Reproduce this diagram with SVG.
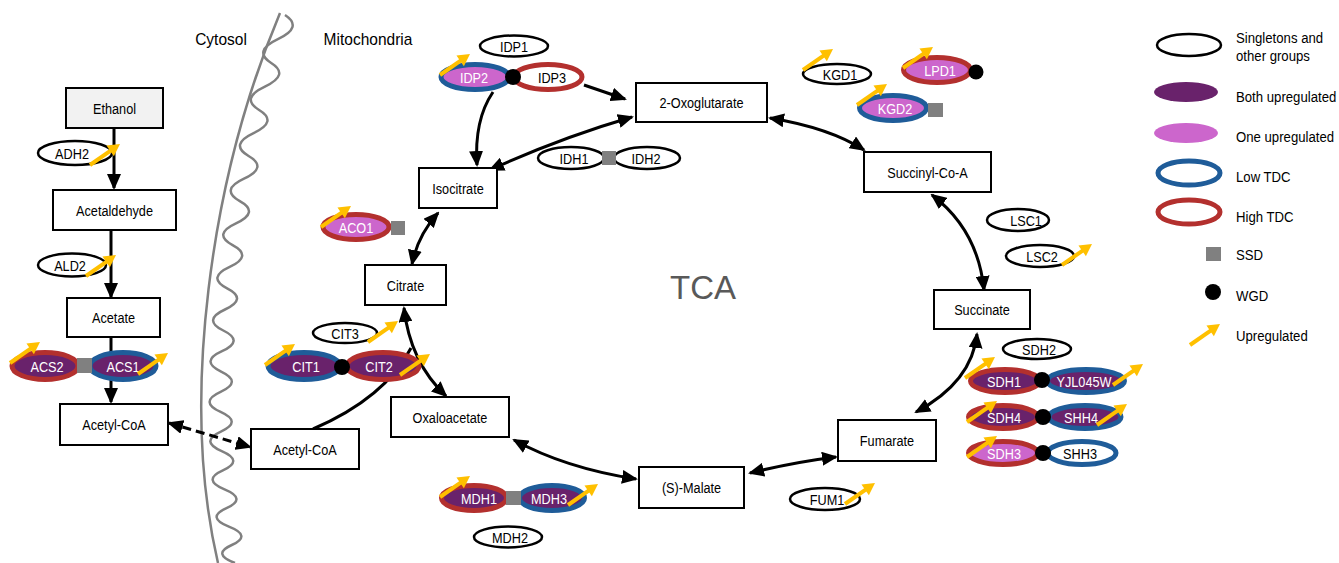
<svg xmlns="http://www.w3.org/2000/svg" xmlns:xlink="http://www.w3.org/1999/xlink" width="1339" height="563" viewBox="0 0 1339 563">
<style>
text{font-family:"Liberation Sans",Arial,sans-serif;font-size:15.5px;fill:#000}
.c{text-anchor:middle}
.w{fill:#fff}
.box{fill:#fff;stroke:#000;stroke-width:2}
.sg{fill:#fff;stroke:#000;stroke-width:2.5}
.bu{fill:#69226b}
.ou{fill:#cc66cc}
.wf{fill:#fff}
.lo{stroke:#1f5c99;stroke-width:5}
.hi{stroke:#b3302e;stroke-width:5}
.ssd{fill:#808080}
.wgd{fill:#000}
.ln{fill:none;stroke:#000;stroke-width:3}
.ae{marker-end:url(#ah)}
.ab{marker-start:url(#ah);marker-end:url(#ah)}
.mem{fill:none;stroke:#808080;stroke-width:2.5}
</style>
<defs>
<marker id="ah" viewBox="0 0 16 14" refX="14" refY="7" markerWidth="16" markerHeight="14" markerUnits="userSpaceOnUse" orient="auto-start-reverse"><path d="M0,0 L16,7 L0,14 z" fill="#000"/></marker>
<g id="up"><path d="M0,0 L21,-14.7" stroke="#ffc000" stroke-width="4" fill="none"/><polygon points="30,-21 23.9,-8.8 16.45,-19.44" fill="#ffc000"/></g>
</defs>

<g id="membrane">
<path class="mem" d="M280,13 C210,180 180,400 218,563"/>
<path class="mem" d="M285,15 Q303.4,27.1 277.9,39.1 Q252.5,51.1 271.2,63 Q290,74.8 264.9,86.6 Q240,98.3 259.1,110 Q278.3,121.6 253.6,133.1 Q229.1,144.6 248.6,156 Q268.3,167.4 244,178.7 Q219.8,189.9 239.8,201.1 Q259.9,212.2 236,223.3 Q212.3,234.2 232.6,245.2 Q253.1,256.1 229.7,266.9 Q206.4,277.6 227.1,288.3 Q248,298.9 225,309.5 Q202.1,320 223.3,330.5 Q244.6,340.9 222,351.2 Q199.5,361.4 221.1,371.6 Q242.8,381.8 220.6,391.9 Q198.6,401.9 220.6,411.9 Q242.7,421.8 220.9,431.6 Q199.3,441.4 221.7,451.1 Q244.2,460.8 222.9,470.4 Q201.6,479.9 224.5,489.4 Q247.4,498.8 226.5,508.1 Q205.6,517.4 228.9,526.7 Q252.3,535.8 231.8,545 Q211.3,554 235,563"/>
<text class="c" transform="matrix(.97 0 0 1 221 45)" style="font-size:16px">Cytosol</text>
<text class="c" transform="matrix(.97 0 0 1 368 45)" style="font-size:16px">Mitochondria</text>
<text x="703" y="299" class="c" style="font-size:33px;fill:#595959">TCA</text>
</g>

<g id="connectors">
<path class="ln ae" d="M114,128 L114,188"/>
<path class="ln ae" d="M111,230 L111,297"/>
<path class="ln ae" d="M111,337 L111,402"/>
<path class="ln ab" d="M169,423 L250,447" stroke-dasharray="9,5"/>
<path class="ln" d="M313,429 Q385,398 411,348"/>
<path class="ln ab" d="M404,308 Q410,362 446,396"/>
<path class="ln ab" d="M412,264 Q418,235 438,213"/>
<path class="ln ae" d="M493,92 Q474,120 477,165"/>
<path class="ln ab" d="M490,170 Q560,138 632,117"/>
<path class="ln ae" d="M584,85 L625,99"/>
<path class="ln ab" d="M770,118 Q830,128 864,150"/>
<path class="ln ab" d="M932,195 Q978,230 984,290"/>
<path class="ln ab" d="M977,334 Q972,382 916,412"/>
<path class="ln ab" d="M750,473 Q795,462 836,457"/>
<path class="ln ab" d="M514,440 Q565,468 636,479"/>
</g>

<g id="ethanol"><rect class="box" x="66" y="88" width="97" height="40" style="fill:#f2f2f2"/><text class="c" transform="matrix(.82 0 0 1 114.5 113.5)">Ethanol</text></g>
<g id="acetaldehyde"><rect class="box" x="53" y="190" width="123" height="40"/><text class="c" transform="matrix(.82 0 0 1 114.5 215.5)">Acetaldehyde</text></g>
<g id="acetate"><rect class="box" x="67" y="298" width="93" height="39"/><text class="c" transform="matrix(.82 0 0 1 113.5 323)">Acetate</text></g>
<g id="acetylcoa-cyt"><rect class="box" x="60" y="404" width="108" height="41"/><text class="c" transform="matrix(.82 0 0 1 114 430)">Acetyl-CoA</text></g>
<g id="acetylcoa-mit"><rect class="box" x="251" y="429" width="108" height="40"/><text class="c" transform="matrix(.82 0 0 1 305 454.5)">Acetyl-CoA</text></g>
<g id="citrate"><rect class="box" x="365" y="265" width="81" height="40"/><text class="c" transform="matrix(.82 0 0 1 405.5 290.5)">Citrate</text></g>
<g id="isocitrate"><rect class="box" x="419" y="168" width="78" height="40"/><text class="c" transform="matrix(.82 0 0 1 458 193.5)">Isocitrate</text></g>
<g id="oxoglutarate"><rect class="box" x="636" y="83" width="131" height="39"/><text class="c" transform="matrix(.82 0 0 1 701.5 108)">2-Oxoglutarate</text></g>
<g id="succinylcoa"><rect class="box" x="864" y="152" width="127" height="40"/><text class="c" transform="matrix(.82 0 0 1 927.5 177.5)">Succinyl-Co-A</text></g>
<g id="succinate"><rect class="box" x="934" y="290" width="96" height="39"/><text class="c" transform="matrix(.82 0 0 1 982 315)">Succinate</text></g>
<g id="fumarate"><rect class="box" x="838" y="420" width="98" height="41"/><text class="c" transform="matrix(.82 0 0 1 887 446)">Fumarate</text></g>
<g id="malate"><rect class="box" x="639" y="467" width="105" height="41"/><text class="c" transform="matrix(.82 0 0 1 691.5 493)">(S)-Malate</text></g>
<g id="oxaloacetate"><rect class="box" x="391" y="397" width="118" height="40"/><text class="c" transform="matrix(.82 0 0 1 450 422.5)">Oxaloacetate</text></g>

<g id="adh2"><ellipse class="sg" cx="75" cy="153" rx="37" ry="12"/><text class="c" transform="matrix(.82 0 0 1 72 158.5)">ADH2</text><use href="#up" x="90" y="165"/></g>
<g id="ald2"><ellipse class="sg" cx="72" cy="265" rx="34" ry="11.5"/><text class="c" transform="matrix(.82 0 0 1 70 270.5)">ALD2</text><use href="#up" x="86" y="276"/></g>
<g id="acs"><ellipse class="hi bu" cx="45" cy="366" rx="33" ry="13.5"/><ellipse class="lo bu" cx="123" cy="366" rx="33" ry="13.5"/><rect class="ssd" x="77" y="358" width="15" height="15"/><text class="c w" transform="matrix(.82 0 0 1 47 371.5)">ACS2</text><text class="c w" transform="matrix(.82 0 0 1 123 371.5)">ACS1</text><use href="#up" x="10" y="363"/><use href="#up" x="138" y="374"/></g>

<g id="idp1"><ellipse class="sg" cx="514" cy="46" rx="34" ry="10.5"/><text class="c" transform="matrix(.82 0 0 1 514 51.5)">IDP1</text></g>
<g id="idp23"><ellipse class="lo ou" cx="475" cy="77" rx="34" ry="12.5"/><ellipse class="hi wf" cx="548" cy="77" rx="34" ry="12.5"/><circle class="wgd" cx="513" cy="77" r="8"/><text class="c w" transform="matrix(.82 0 0 1 474 82.5)">IDP2</text><text class="c" transform="matrix(.82 0 0 1 552 82.5)">IDP3</text><use href="#up" x="440" y="75"/></g>
<g id="idh"><ellipse class="sg" cx="571" cy="158" rx="33" ry="11"/><ellipse class="sg" cx="647" cy="158" rx="33" ry="11"/><rect class="ssd" x="602" y="151" width="14" height="14"/><text class="c" transform="matrix(.82 0 0 1 574 163.5)">IDH1</text><text class="c" transform="matrix(.82 0 0 1 646 163.5)">IDH2</text></g>
<g id="aco1"><ellipse class="hi ou" cx="356" cy="227" rx="33" ry="12.5"/><rect class="ssd" x="391" y="221" width="14" height="14"/><text class="c w" transform="matrix(.82 0 0 1 356 232.5)">ACO1</text><use href="#up" x="321" y="227"/></g>
<g id="cit3"><ellipse class="sg" cx="345" cy="333" rx="32" ry="10"/><text class="c" transform="matrix(.82 0 0 1 345 338.5)">CIT3</text><use href="#up" x="368" y="342"/></g>
<g id="cit12"><ellipse class="lo bu" cx="304" cy="366" rx="36" ry="13.5"/><ellipse class="hi bu" cx="383" cy="366" rx="36" ry="13.5"/><circle class="wgd" cx="342" cy="367" r="8"/><text class="c w" transform="matrix(.82 0 0 1 306 371.5)">CIT1</text><text class="c w" transform="matrix(.82 0 0 1 379 371.5)">CIT2</text><use href="#up" x="265" y="365"/><use href="#up" x="400" y="375"/></g>
<g id="mdh13"><ellipse class="hi bu" cx="474" cy="498" rx="32.5" ry="12.5"/><ellipse class="lo bu" cx="552" cy="498" rx="32.5" ry="12.5"/><rect class="ssd" x="506" y="491" width="15" height="14"/><text class="c w" transform="matrix(.82 0 0 1 479 503.5)">MDH1</text><text class="c w" transform="matrix(.82 0 0 1 549 503.5)">MDH3</text><use href="#up" x="440" y="497"/><use href="#up" x="568" y="505"/></g>
<g id="mdh2"><ellipse class="sg" cx="508" cy="537" rx="34" ry="10.5"/><text class="c" transform="matrix(.82 0 0 1 510 542.5)">MDH2</text></g>
<g id="fum1"><ellipse class="sg" cx="825" cy="499" rx="35" ry="11"/><text class="c" transform="matrix(.82 0 0 1 827 504.5)">FUM1</text><use href="#up" x="845" y="504"/></g>
<g id="kgd1"><ellipse class="sg" cx="837" cy="74" rx="34" ry="10"/><text class="c" transform="matrix(.82 0 0 1 840 79.5)">KGD1</text><use href="#up" x="803" y="70"/></g>
<g id="lpd1"><ellipse class="hi ou" cx="937" cy="70" rx="33.5" ry="12.5"/><circle class="wgd" cx="976" cy="72" r="7.5"/><text class="c w" transform="matrix(.82 0 0 1 940 75.5)">LPD1</text><use href="#up" x="903" y="68"/></g>
<g id="kgd2"><ellipse class="lo ou" cx="893" cy="108" rx="33.5" ry="12.5"/><rect class="ssd" x="928" y="103" width="15" height="14"/><text class="c w" transform="matrix(.82 0 0 1 895 113.5)">KGD2</text><use href="#up" x="857" y="105"/></g>
<g id="lsc1"><ellipse class="sg" cx="1018" cy="220" rx="31" ry="11"/><text class="c" transform="matrix(.82 0 0 1 1026 225.5)">LSC1</text></g>
<g id="lsc2"><ellipse class="sg" cx="1040" cy="256" rx="34" ry="11"/><text class="c" transform="matrix(.82 0 0 1 1042 261.5)">LSC2</text><use href="#up" x="1062" y="265"/></g>
<g id="sdh2"><ellipse class="sg" cx="1037" cy="349" rx="34" ry="10"/><text class="c" transform="matrix(.82 0 0 1 1039 354.5)">SDH2</text></g>
<g id="sdh1-yjl045w"><ellipse class="hi bu" cx="1005" cy="381" rx="34.5" ry="11.5"/><ellipse class="lo bu" cx="1086" cy="381" rx="38.5" ry="11.5"/><circle class="wgd" cx="1042" cy="380" r="8"/><text class="c w" transform="matrix(.82 0 0 1 1004 386.5)">SDH1</text><text class="c w" transform="matrix(.82 0 0 1 1084 386.5)">YJL045W</text><use href="#up" x="965" y="378"/><use href="#up" x="1113" y="385"/></g>
<g id="sdh4-shh4"><ellipse class="hi bu" cx="1003" cy="417" rx="34.5" ry="11.5"/><ellipse class="lo bu" cx="1085" cy="417" rx="36" ry="11.5"/><circle class="wgd" cx="1043" cy="417" r="8"/><text class="c w" transform="matrix(.82 0 0 1 1004 422.5)">SDH4</text><text class="c w" transform="matrix(.82 0 0 1 1081 422.5)">SHH4</text><use href="#up" x="967" y="422"/><use href="#up" x="1097" y="425"/></g>
<g id="sdh3-shh3"><ellipse class="hi ou" cx="1003" cy="453" rx="34.5" ry="11.5"/><ellipse class="lo wf" cx="1082" cy="453" rx="34" ry="11.5"/><circle class="wgd" cx="1043" cy="453" r="8"/><text class="c w" transform="matrix(.82 0 0 1 1004 458.5)">SDH3</text><text class="c" transform="matrix(.82 0 0 1 1080 458.5)">SHH3</text><use href="#up" x="967" y="457"/></g>

<g id="legend">
<ellipse class="sg" cx="1189" cy="45" rx="32" ry="11"/>
<text transform="matrix(.85 0 0 1 1236 43)">Singletons and</text><text transform="matrix(.85 0 0 1 1236 61)">other groups</text>
<ellipse class="bu" cx="1186" cy="92" rx="32" ry="10"/><text transform="matrix(.85 0 0 1 1236 101.5)">Both upregulated</text>
<ellipse class="ou" cx="1186" cy="133" rx="32" ry="10"/><text transform="matrix(.85 0 0 1 1236 141.5)">One upregulated</text>
<ellipse class="lo" cx="1189" cy="173" rx="31" ry="12" fill="none"/><text transform="matrix(.85 0 0 1 1236 181.5)">Low TDC</text>
<ellipse class="hi" cx="1189" cy="212" rx="31" ry="12" fill="none"/><text transform="matrix(.85 0 0 1 1236 221.5)">High TDC</text>
<rect class="ssd" x="1206" y="247" width="15" height="14"/><text transform="matrix(.85 0 0 1 1236 260)">SSD</text>
<circle class="wgd" cx="1213" cy="292" r="8"/><text transform="matrix(.85 0 0 1 1236 300.5)">WGD</text>
<use href="#up" x="1190" y="345"/><text transform="matrix(.85 0 0 1 1236 341)">Upregulated</text>
</g>
</svg>
